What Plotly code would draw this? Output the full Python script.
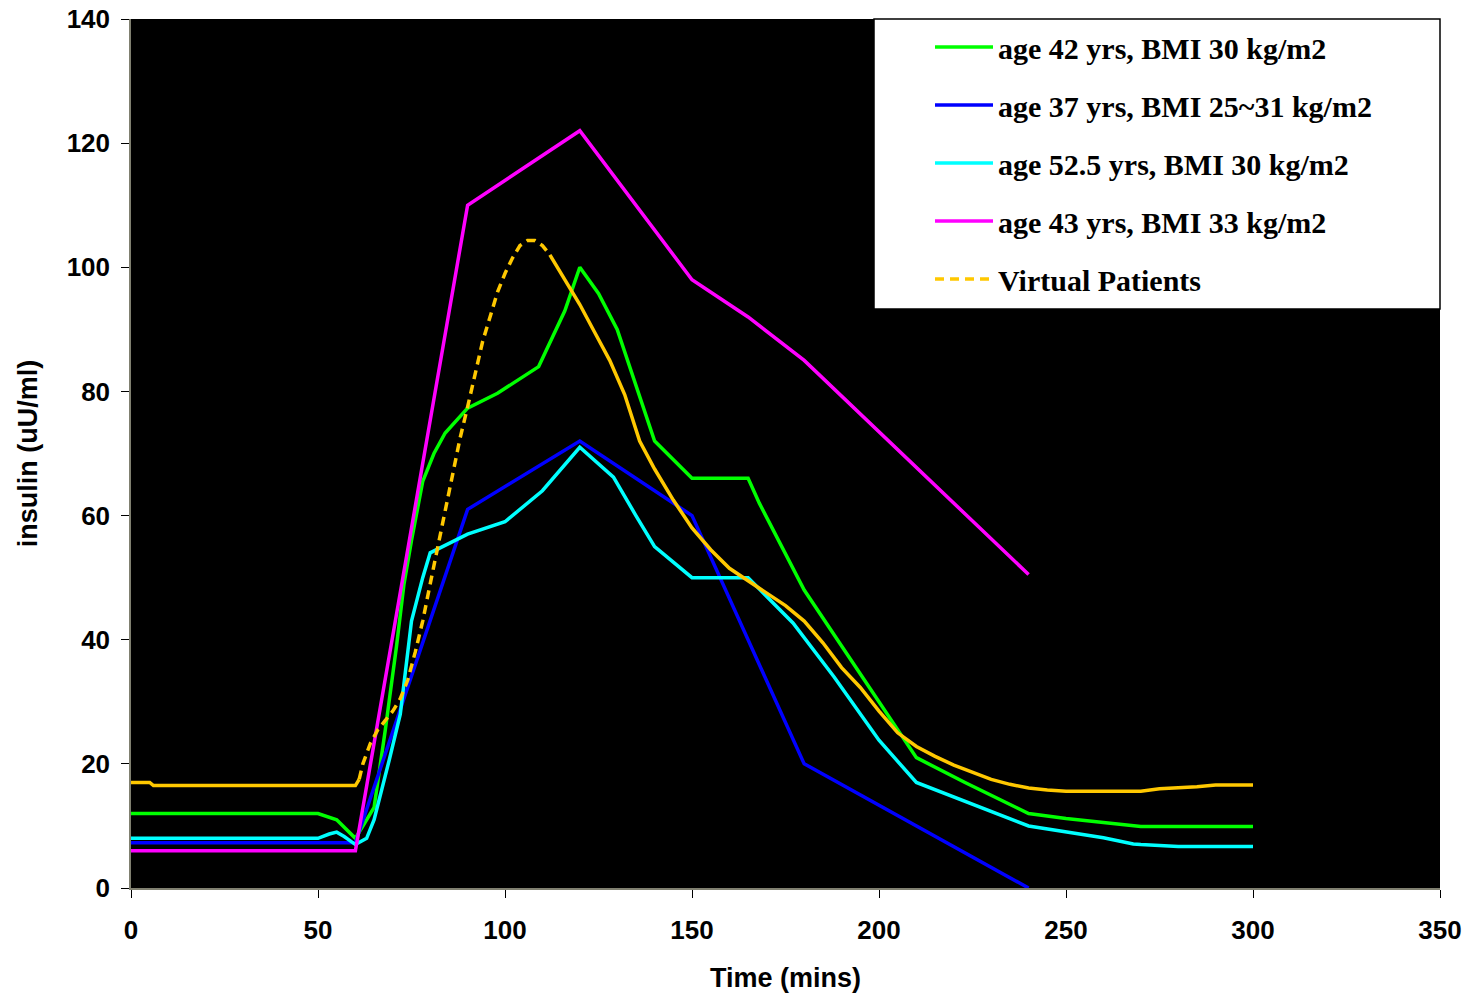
import numpy as np
import plotly.graph_objects as go

# ---- data ----
green_t = [0, 50, 55, 60, 65, 68, 71, 73, 75, 78, 81, 84, 90, 98, 109, 112, 116, 120, 125, 130, 133, 137, 140, 150, 165, 168, 180, 190, 200, 210, 223, 240, 250, 260, 270, 300]
green_v = [12, 12, 11, 8, 13, 25.5, 39, 49, 56, 65.5, 70, 73.3, 77.3, 79.7, 84, 87.8, 93, 100, 95.8, 90, 84.6, 77, 72, 66, 66, 62, 48, 39, 30, 21, 17, 12, 11.2, 10.6, 9.9, 9.9]

blue_t = [0, 60, 90, 120, 150, 180, 240]
blue_v = [7.3, 7.3, 61, 72, 60, 20, 0]

cyan_t = [0, 50, 53, 55, 57, 60, 63, 65, 69, 72, 75, 78, 80, 90, 100, 110, 120, 129, 135, 140, 150, 165, 177, 188, 200, 210, 240, 250, 260, 268, 270, 280, 300]
cyan_v = [8, 8, 8.7, 9, 8.3, 7, 8, 11, 20.5, 28, 43, 50, 54, 57, 59, 64, 71, 66.2, 60, 55, 50, 50, 42.7, 34, 23.8, 17, 10, 9.1, 8.1, 7.1, 7, 6.7, 6.7]

magenta_t = [0, 60, 90, 120, 150, 165, 180, 240]
magenta_v = [6, 6, 110, 122, 98, 92, 85, 50.5]

vp_t = [0, 5, 6, 60, 61, 62, 64, 66, 68, 70, 72, 74, 76, 78, 80, 82, 84, 86, 88, 90, 92, 94, 96, 98, 100, 102, 104, 106, 108, 110, 112, 114, 116, 118, 120, 124, 128, 132, 136, 140, 145, 150, 155, 160, 165, 170, 175, 180, 185, 190, 195, 200, 205, 210, 215, 220, 225, 230, 235, 240, 245, 250, 260, 270, 275, 285, 290, 300]
vp_v = [17, 17, 16.5, 16.5, 17.5, 20, 23.3, 25.5, 27, 28.5, 30.5, 33.5, 38, 43, 49, 55, 61, 67, 72.5, 77.5, 83, 88, 92, 96, 99, 101.5, 103.5, 104.3, 104.3, 103.5, 102, 100, 97.8, 96, 94, 89.5, 85, 79.5, 72, 67.5, 62.5, 58, 54.5, 51.5, 49.5, 47.5, 45.5, 43, 39.5, 35.5, 32.3, 28.5, 25, 22.8, 21.2, 19.8, 18.6, 17.5, 16.7, 16.1, 15.8, 15.6, 15.6, 15.6, 16, 16.3, 16.6, 16.6]

names = ["age 42 yrs, BMI 30 kg/m2", "age 37 yrs, BMI 25~31 kg/m2",
         "age 52.5 yrs, BMI 30 kg/m2", "age 43 yrs, BMI 33 kg/m2", "Virtual Patients"]
colors = ["#00FF00", "#0000FF", "#00FFFF", "#FF00FF", "#FFC800"]

x_ticks = [0, 50, 100, 150, 200, 250, 300, 350]
y_ticks = [0, 20, 40, 60, 80, 100, 120, 140]

LW = 3.5

fig = go.Figure()
series = [(green_t, green_v), (blue_t, blue_v), (cyan_t, cyan_v), (magenta_t, magenta_v)]
for i, (t, v) in enumerate(series):
    fig.add_trace(go.Scatter(x=t, y=v, mode="lines", name=f"<b>{names[i]}</b>",
                             legendgroup=f"g{i}",
                             line=dict(color=colors[i], width=LW)))

vt = np.array(vp_t, dtype=float)
vv = np.array(vp_v, dtype=float)
m1 = vt <= 61
m2 = (vt >= 61) & (vt <= 112)
m3 = vt >= 112
fig.add_trace(go.Scatter(x=vt[m2], y=vv[m2], mode="lines", name=f"<b>{names[4]}</b>",
                         legendgroup="g4",
                         line=dict(color=colors[4], width=LW, dash="9px,6px")))
for m in (m1, m3):
    fig.add_trace(go.Scatter(x=vt[m], y=vv[m], mode="lines", showlegend=False,
                             legendgroup="g4", hoverinfo="skip",
                             line=dict(color=colors[4], width=LW)))

# legend box
fig.add_shape(type="rect", xref="paper", yref="paper",
              x0=(874 - 131) / 1309, x1=1.0, y0=(888 - 309) / 869, y1=1.0,
              fillcolor="white", line=dict(color="black", width=1.5), layer="above")

axis_font = dict(family="Liberation Sans, Arial", size=26, color="black")
fig.update_layout(
    width=1471, height=993,
    margin=dict(l=131, r=31, t=19, b=105),
    paper_bgcolor="white", plot_bgcolor="black",
    font=dict(family="Liberation Sans, Arial", color="black"),
    xaxis=dict(range=[0, 350], tickvals=x_ticks, ticktext=[f"<b>{v}</b>" for v in x_ticks],
               tickfont=axis_font, ticks="outside", ticklen=8, tickcolor="black",
               ticklabelstandoff=10,
               showline=True, linecolor="#808070", linewidth=1.5, showgrid=False, zeroline=False,
               automargin=False,
               title=dict(text="<b>Time (mins)</b>", font=dict(family="Liberation Sans, Arial", size=27), standoff=24)),
    yaxis=dict(range=[0, 140], tickvals=y_ticks, ticktext=[f"<b>{v}</b>" for v in y_ticks],
               tickfont=axis_font, ticks="outside", ticklen=8, tickcolor="black",
               ticklabelstandoff=6,
               showline=True, linecolor="#808070", linewidth=1.5, showgrid=False, zeroline=False,
               automargin=False,
               title=dict(text="<b>insulin (uU/ml)</b>", font=dict(family="Liberation Sans, Arial", size=27), standoff=21)),
    legend=dict(x=(930 - 131) / 1309, y=(888 - 21) / 869, xanchor="left", yanchor="top",
                bgcolor="rgba(0,0,0,0)", borderwidth=0, tracegroupgap=16, itemwidth=58,
                font=dict(family="Liberation Serif, Times New Roman", size=30, color="black"),
                traceorder="grouped"),
    showlegend=True,
)

fig.write_html("out.html", config={"displayModeBar": False},
               post_script="document.body.style.margin='0px';")
